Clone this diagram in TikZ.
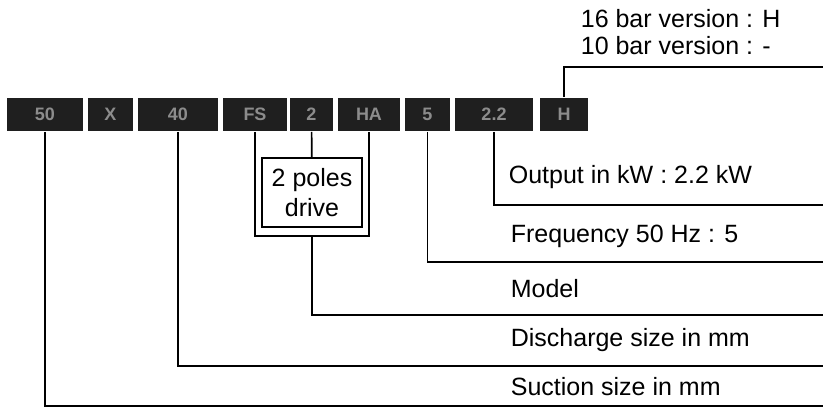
\documentclass[tikz,border=0pt]{standalone}
\usepackage{fontspec}
\setmainfont{Liberation Sans}
\usepackage{tikz}

\begin{document}
\begin{tikzpicture}
  [x=1pt,y=-1pt,line width=1.7pt,
   every node/.style={font=\fontsize{25}{30}\selectfont},
   codebox/.style={fill=black!88,text=black!45,minimum height=33pt,inner sep=0pt,
     font=\fontsize{18}{20}\selectfont\bfseries},
   label/.style={anchor=west,inner sep=0pt},
   polesbox/.style={draw,align=center,minimum width=100pt,minimum height=69pt,inner sep=0pt}]
  \useasboundingbox (0,0) rectangle (823,408);
  % type code
  \node[codebox,minimum width=76pt] (b50) at (45,114.5) {50};
  \node[codebox,minimum width=45pt] (bX)  at (110.5,114.5) {X};
  \node[codebox,minimum width=80pt] (b40) at (178,114.5) {40};
  \node[codebox,minimum width=64pt] (bFS) at (255,114.5) {FS};
  \node[codebox,minimum width=43pt] (b2)  at (311.5,114.5) {2};
  \node[codebox,minimum width=62pt] (bHA) at (369,114.5) {HA};
  \node[codebox,minimum width=45pt] (b5)  at (427.5,114.5) {5};
  \node[codebox,minimum width=78pt] (b22) at (494,114.5) {2.2};
  \node[codebox,minimum width=48pt] (bH)  at (564,114.5) {H};

  \node[polesbox] (poles) at (312,192.5) {2 poles\\drive};
  \coordinate (brk) at ([yshift=-8pt]poles.south);

  % labels
  \node[label] (L16)  at (580,19)  {16 bar version : H};
  \node[label] (L10)  at (580,46)  {10 bar version : -};
  \node[label] (Lout) at (508,177) {Output in kW : 2.2 kW};
  \node[label] (Lfrq) at (510,236) {Frequency 50 Hz : 5};
  \node[label] (Lmod) at (510,289) {Model};
  \node[label] (Ldis) at (510,340) {Discharge size in mm};
  \node[label] (Lsuc) at (510,387) {Suction size in mm};

  \coordinate (topR) at (823,67);
  \coordinate (outR) at (823,205);
  \coordinate (frqR) at (823,262);
  \coordinate (modR) at (823,315);
  \coordinate (disR) at (823,366);
  \coordinate (sucR) at (823,406);

  \draw (bFS) |- (brk) -| (bHA);
  \draw (b2) -- (poles);
  \foreach \from/\to in {bH/topR,b22/outR,b5/frqR,brk/modR,b40/disR,b50/sucR}
    \draw (\from) |- (\to);

\end{tikzpicture}
\end{document}
